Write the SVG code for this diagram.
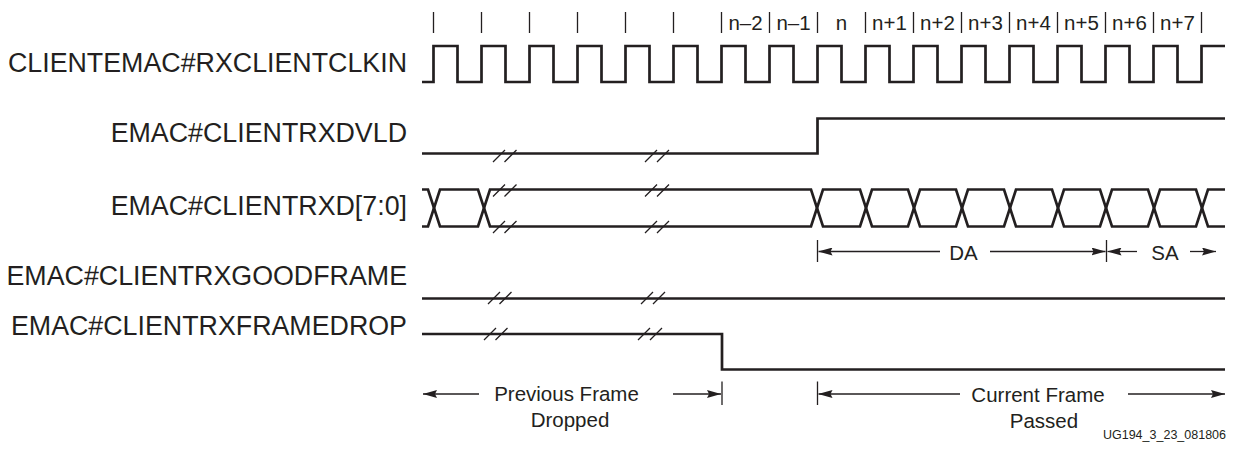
<svg xmlns="http://www.w3.org/2000/svg" width="1233" height="459" viewBox="0 0 1233 459">
<style>
.lbl{font-family:"Liberation Sans",Arial,Helvetica,sans-serif;font-size:26.8px;fill:#231f20;text-anchor:end}
.tk{font-family:"Liberation Sans",Arial,Helvetica,sans-serif;font-size:20.5px;fill:#231f20;text-anchor:middle}
.ann{font-family:"Liberation Sans",Arial,Helvetica,sans-serif;font-size:20.5px;fill:#231f20;text-anchor:middle}
.id{font-family:"Liberation Sans",Arial,Helvetica,sans-serif;font-size:12.5px;fill:#231f20;text-anchor:end}
.wave{fill:none;stroke:#231f20;stroke-width:2.7}
.thin{fill:none;stroke:#231f20;stroke-width:1.3}
.arr{fill:none;stroke:#231f20;stroke-width:1.3;marker-end:url(#ah)}
</style>
<defs>
<marker id="ah" viewBox="0 0 14 8" refX="14" refY="4" markerWidth="14" markerHeight="8" orient="auto" markerUnits="userSpaceOnUse">
<path d="M0,0 L14,4 L0,8 L2,4 z" fill="#231f20"/>
</marker>
</defs>
<rect width="1233" height="459" fill="#ffffff"/>

<g id="ticks" class="thin">
<path d="M433.5,12V33 M481.5,12V33 M529.5,12V33 M577.5,12V33 M625.5,12V33 M673.5,12V33 M721.5,12V33 M769.5,12V33 M817.5,12V33 M865.5,12V33 M913.5,12V33 M961.5,12V33 M1009.5,12V33 M1057.5,12V33 M1105.5,12V33 M1153.5,12V33 M1201.5,12V33"/>
</g>
<g id="tick-labels">
<text class="tk" x="745.5" y="30">n–2</text>
<text class="tk" x="793.5" y="30">n–1</text>
<text class="tk" x="841.5" y="30">n</text>
<text class="tk" x="889.5" y="30">n+1</text>
<text class="tk" x="937.5" y="30">n+2</text>
<text class="tk" x="985.5" y="30">n+3</text>
<text class="tk" x="1033.5" y="30">n+4</text>
<text class="tk" x="1081.5" y="30">n+5</text>
<text class="tk" x="1129.5" y="30">n+6</text>
<text class="tk" x="1177.5" y="30">n+7</text>
</g>

<g id="sig-clk">
<text class="lbl" x="407" y="72">CLIENTEMAC#RXCLIENTCLKIN</text>
<path class="wave" d="M422,82 H433.5 V46 H457.5 V82 H481.5 V46 H505.5 V82 H529.5 V46 H553.5 V82 H577.5 V46 H601.5 V82 H625.5 V46 H649.5 V82 H673.5 V46 H697.5 V82 H721.5 V46 H745.5 V82 H769.5 V46 H793.5 V82 H817.5 V46 H841.5 V82 H865.5 V46 H889.5 V82 H913.5 V46 H937.5 V82 H961.5 V46 H985.5 V82 H1009.5 V46 H1033.5 V82 H1057.5 V46 H1081.5 V82 H1105.5 V46 H1129.5 V82 H1153.5 V46 H1177.5 V82 H1201.5 V46 H1225"/>
</g>

<g id="sig-dvld">
<text class="lbl" x="407" y="142">EMAC#CLIENTRXDVLD</text>
<path class="wave" d="M422,153.5 H817.5 V118.5 H1225"/>
<path class="thin" d="M493,162 L505,150 M504.5,162 L516.5,150 M645,162 L657,150 M657,162 L669,150"/>
</g>

<g id="sig-rxd">
<text class="lbl" x="407" y="215">EMAC#CLIENTRXD[7:0]</text>
<path class="wave" d="M422,189.5 H428 L440,226.5 H478 L490,189.5 H811 L823,226.5 H860 L872,189.5 H908 L920,226.5 H956 L968,189.5 H1004 L1016,226.5 H1052 L1064,189.5 H1100 L1112,226.5 H1148 L1160,189.5 H1196 L1208,226.5 H1225"/>
<path class="wave" d="M422,226.5 H428 L440,189.5 H478 L490,226.5 H811 L823,189.5 H860 L872,226.5 H908 L920,189.5 H956 L968,226.5 H1004 L1016,189.5 H1052 L1064,226.5 H1100 L1112,189.5 H1148 L1160,226.5 H1196 L1208,189.5 H1225"/>
<path class="thin" d="M493,196.5 L505,184.5 M504.5,196.5 L516.5,184.5 M645,196.5 L657,184.5 M657,196.5 L669,184.5 M493,233 L505,221 M504.5,233 L516.5,221 M645,233 L657,221 M657,233 L669,221"/>
</g>

<g id="sig-goodframe">
<text class="lbl" x="407" y="285">EMAC#CLIENTRXGOODFRAME</text>
<path class="wave" d="M422,298.5 H1225"/>
<path class="thin" d="M488,304 L500,292 M499.5,304 L511.5,292 M641,304 L653,292 M653,304 L665,292"/>
</g>

<g id="sig-framedrop">
<text class="lbl" x="407" y="335">EMAC#CLIENTRXFRAMEDROP</text>
<path class="wave" d="M422,334 H722 V369.5 H1225"/>
<path class="thin" d="M484,340 L496,328 M495.5,340 L507.5,328 M638,340 L650,328 M650,340 L662,328"/>
</g>

<g id="connectors">
<path class="thin" d="M817.5,240 V262 M1106.5,240 V262"/>
<path class="arr" d="M940,251.5 H818.5"/>
<path class="arr" d="M990,251.5 H1105.5"/>
<path class="arr" d="M1137,251.5 H1107.5"/>
<path class="arr" d="M1190,251.5 H1216"/>
<path class="thin" d="M722,381.5 V405 M817.5,381.5 V405"/>
<path class="arr" d="M479,394 H423"/>
<path class="arr" d="M673,394 H721"/>
<path class="arr" d="M960,394 H818.5"/>
<path class="arr" d="M1128,394 H1225"/>
</g>

<g id="annotations">
<text class="ann" x="963.5" y="260">DA</text>
<text class="ann" x="1165" y="260">SA</text>
<text class="ann" x="566.5" y="401">Previous Frame</text>
<text class="ann" x="570" y="427">Dropped</text>
<text class="ann" x="1038" y="402">Current Frame</text>
<text class="ann" x="1044" y="428">Passed</text>
<text class="id" x="1226" y="439">UG194_3_23_081806</text>
</g>
</svg>
